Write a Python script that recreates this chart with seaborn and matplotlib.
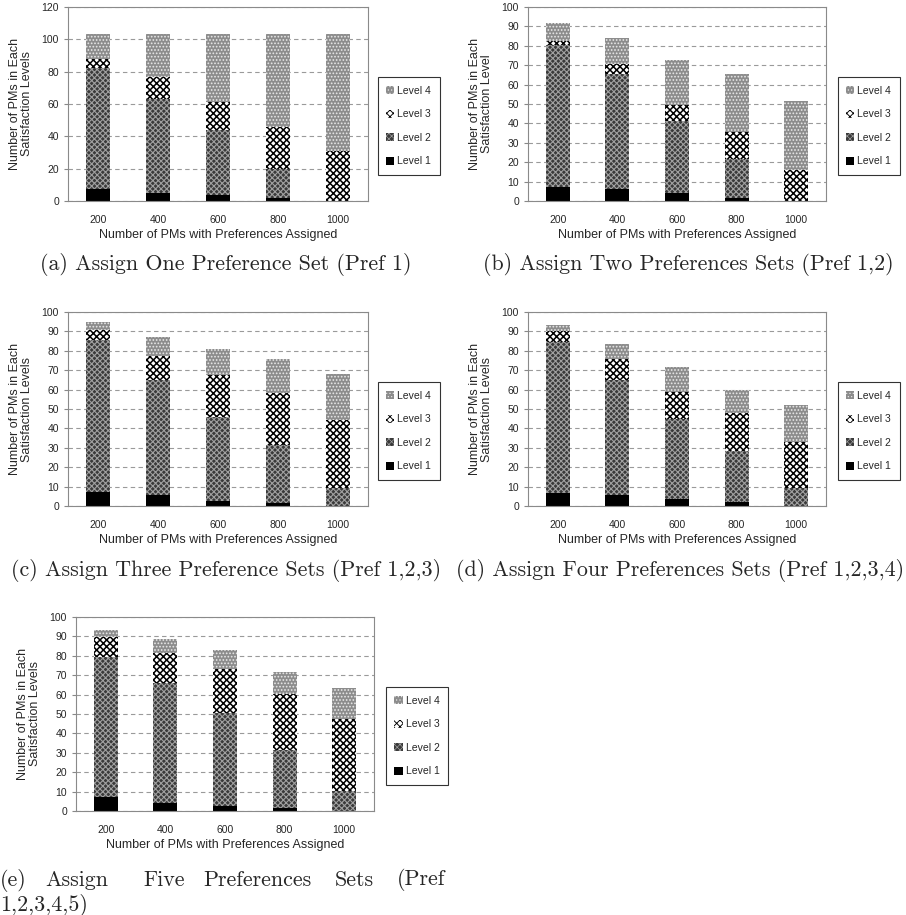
import numpy as np
import pandas as pd
import matplotlib
matplotlib.use("Agg")
import matplotlib.pyplot as plt
from matplotlib.patches import Patch
import seaborn as sns

# x categories
pms = ["200", "400", "600", "800", "1000"]
levels = ["Level 1", "Level 2", "Level 3", "Level 4"]

# PMs per satisfaction level, one list per level, for each panel
a_l1 = [7.5, 5.0, 4.0, 2.0, 0.0]
a_l2 = [74.5, 58.0, 40.0, 18.0, 0.0]
a_l3 = [6.0, 14.0, 17.0, 25.5, 31.0]
a_l4 = [15.0, 26.0, 42.0, 57.5, 72.0]

b_l1 = [7.0, 6.0, 4.3, 1.7, 0.0]
b_l2 = [73.5, 59.5, 37.0, 20.0, 0.0]
b_l3 = [2.0, 5.0, 8.0, 14.0, 16.2]
b_l4 = [9.3, 13.7, 23.5, 29.7, 35.6]

c_l1 = [7.1, 5.7, 2.6, 1.5, 0.0]
c_l2 = [78.3, 59.5, 43.2, 29.7, 9.5]
c_l3 = [5.1, 11.9, 21.5, 27.3, 34.9]
c_l4 = [4.3, 10.0, 13.7, 17.4, 23.6]

d_l1 = [6.9, 5.9, 3.8, 1.9, 0.0]
d_l2 = [77.4, 59.1, 40.8, 26.3, 9.3]
d_l3 = [5.9, 10.9, 14.3, 19.6, 23.7]
d_l4 = [3.1, 7.4, 13.0, 12.1, 19.3]

e_l1 = [7.2, 4.3, 2.8, 1.5, 0.0]
e_l2 = [72.3, 61.8, 47.6, 29.7, 10.5]
e_l3 = [10.2, 15.5, 22.7, 28.9, 37.0]
e_l4 = [3.6, 7.0, 9.7, 11.3, 15.7]

ylabels = ["Number of PMs in Each\nSatisfaction Levels",
           "Number of PMs in Each\nSatisfaction Level",
           "Number of PMs in Each\nSatisfaction Levels",
           "Number of PMs in Each\nSatisfaction Levels",
           "Number of PMs in Each\nSatisfaction Levels"]
ymaxes = [120, 100, 100, 100, 100]
ysteps = [20, 10, 10, 10, 10]

# (face, hatch colour, hatch, hatch linewidth) per level
styles = {
    "Level 1": ("#000000", "#000000", "", 1.0),
    "Level 2": ("#3a3a3a", "#a0a0a0", "xxxxxx", 0.8),
    "Level 3": ("#ffffff", "#000000", "xxxxx", 1.1),
    "Level 4": ("#8c8c8c", "#e8e8e8", ".....", 0.8),
}

sns.set_style("white")
plt.rcParams["font.family"] = ["Liberation Sans", "DejaVu Sans"]

W, H = 906, 915
fig = plt.figure(figsize=(W / 100, H / 100), dpi=100)


def rect(x0, y0, x1, y1):
    return [x0 / W, 1 - y1 / H, (x1 - x0) / W, (y1 - y0) / H]


def set_hlw(p, lw):
    if hasattr(p, "set_hatch_linewidth"):
        p.set_hatch_linewidth(lw)


def panel(box, legbox, data, ylabel, ymax, ystep):
    ax = fig.add_axes(rect(*box))
    df = pd.DataFrame({"pms": pms, "Level 1": data[0], "Level 2": data[1],
                       "Level 3": data[2], "Level 4": data[3]})
    # stack by overlaying cumulative heights, tallest first
    cum = df[levels].cumsum(axis=1)
    ax.set_axisbelow(True)
    for lev in reversed(levels):
        face, hc, hatch, hlw = styles[lev]
        n0 = len(ax.patches)
        with plt.rc_context({"hatch.linewidth": hlw}):
            sns.barplot(x=df["pms"], y=cum[lev], ax=ax, color=face, saturation=1,
                        width=0.4, errorbar=None, hatch=hatch, edgecolor=hc,
                        linewidth=0, zorder=2)
        for p in ax.patches[n0:]:
            set_hlw(p, hlw)
    ax.set_xlim(-0.5, 4.5)
    ax.set_ylim(0, ymax)
    ax.set_yticks(np.arange(0, ymax + 1, ystep))
    ax.yaxis.grid(True, linestyle=(0, (4, 3)), color="#9a9a9a", linewidth=0.8)
    ax.set_xticks(range(5))
    ax.set_xticks(np.arange(-0.5, 5, 1), minor=True)
    ax.tick_params(axis="x", which="major", length=0, labelsize=7.5, pad=10)
    ax.tick_params(axis="x", which="minor", length=4, color="#888888", width=0.8)
    ax.tick_params(axis="y", length=3, color="#888888", width=0.8, labelsize=7.5, left=True)
    for s in ax.spines.values():
        s.set_color("#8a8a8a")
        s.set_linewidth(0.8)
    ax.set_xlabel("Number of PMs with Preferences Assigned", fontsize=9, labelpad=3)
    ax.set_ylabel(ylabel, fontsize=9, labelpad=6, linespacing=1.0)
    handles = []
    for lev in reversed(levels):
        face, hc, hatch, hlw = styles[lev]
        hp = Patch(facecolor=face, edgecolor=hc, hatch=hatch, linewidth=0, label=lev)
        handles.append(hp)
    lx0, ly0, lx1, ly1 = legbox
    leg = ax.legend(handles=handles, loc="center",
                    bbox_to_anchor=((lx0 + lx1) / 2 / W, 1 - (ly0 + ly1) / 2 / H),
                    bbox_transform=fig.transFigure, frameon=True, fancybox=False,
                    fontsize=7.5, handlelength=0.8, handleheight=0.8,
                    handletextpad=0.3, labelspacing=1.3, borderpad=0.8)
    leg.get_frame().set_edgecolor("#000000")
    leg.get_frame().set_linewidth(0.8)
    for hp, lev in zip(leg.get_patches(), reversed(levels)):
        set_hlw(hp, styles[lev][3] * 0.6)
    return ax


panel((68, 7, 368, 201), (380, 82, 437, 170), [a_l1, a_l2, a_l3, a_l4],
      ylabels[0], ymaxes[0], ysteps[0])
panel((528, 7, 826, 201), (840, 82, 897, 170), [b_l1, b_l2, b_l3, b_l4],
      ylabels[1], ymaxes[1], ysteps[1])
panel((68, 312, 368, 506), (380, 387, 437, 475), [c_l1, c_l2, c_l3, c_l4],
      ylabels[2], ymaxes[2], ysteps[2])
panel((528, 312, 826, 506), (840, 387, 897, 475), [d_l1, d_l2, d_l3, d_l4],
      ylabels[3], ymaxes[3], ysteps[3])
panel((76, 617, 374, 811), (388, 693, 446, 779), [e_l1, e_l2, e_l3, e_l4],
      ylabels[4], ymaxes[4], ysteps[4])

# captions
cap_font = dict(family=["cmr10", "DejaVu Serif"], fontsize=15.8, ha="center", va="center")
fig.text(226 / W, 1 - 264 / H, "(a) Assign One Preference Set (Pref 1)", **cap_font)
fig.text(688 / W, 1 - 264 / H, "(b) Assign Two Preferences Sets (Pref 1,2)", **cap_font)
fig.text(226 / W, 1 - 570 / H, "(c) Assign Three Preference Sets (Pref 1,2,3)", **cap_font)
fig.text(680 / W, 1 - 570 / H, "(d) Assign Four Preferences Sets (Pref 1,2,3,4)", **cap_font)

# (e) caption is justified over two lines
cap_left = dict(family=["cmr10", "DejaVu Serif"], fontsize=15.8, ha="left", va="center")
for word, x in [("(e)", 0), ("Assign", 45), ("Five", 143), ("Preferences", 203),
                ("Sets", 335), ("(Pref", 397)]:
    fig.text(x / W, 1 - 880 / H, word, **cap_left)
fig.text(0, 1 - 905 / H, "1,2,3,4,5)", **cap_left)

fig.savefig("out.png", dpi=100)
